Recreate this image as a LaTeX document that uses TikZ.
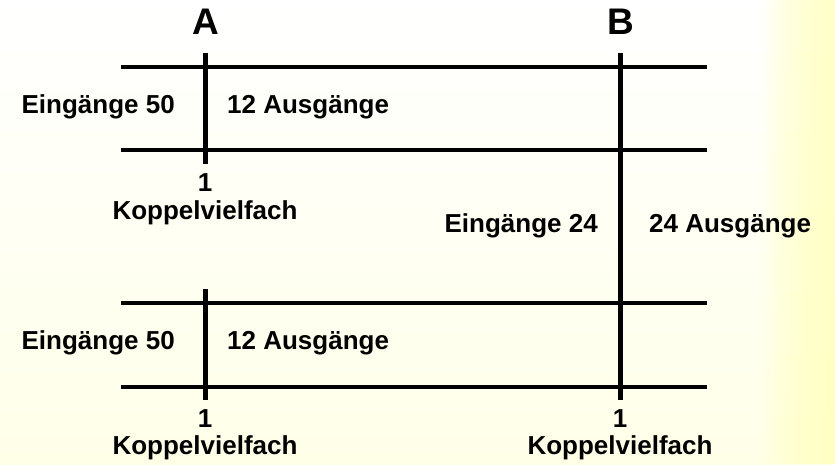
\documentclass[tikz,border=0pt]{standalone}
\usepackage{fontspec}
\setmainfont{Liberation Sans}[BoldFont={Liberation Sans Bold}]
\usepackage{tikz}
\definecolor{paleyellow}{RGB}{255, 255, 232}
\definecolor{stripyellow}{RGB}{255, 255, 190}

\begin{document}
\begin{tikzpicture}[
    x=1pt, y=-1pt,
    label/.style={font=\fontsize{26}{30}\selectfont\bfseries, inner sep=0pt},
    heading/.style={font=\fontsize{37}{40}\selectfont\bfseries, inner sep=0pt},
    bus/.style={line width=4pt},
    stage/.style={line width=5pt}
]
% background
\useasboundingbox (0, 0) rectangle (835, 464);
\shade[top color=white, bottom color=paleyellow] (0, 0) rectangle (835, 464);
\foreach \i in {1,...,25}
    \fill[stripyellow, fill opacity=0.06] (760+3*\i, 0) rectangle (835, 464);
% horizontal lines
\foreach \y/\n in {67/h1, 150/h2, 303/h3, 387/h4} {
    \coordinate (\n l) at (121, \y);
    \coordinate (\n r) at (707, \y);
    \draw[bus] (\n l) -- (\n r);
}
% switching stages
\coordinate (atop1) at (205, 53);  \coordinate (abot1) at (205, 164);
\coordinate (atop2) at (205, 289); \coordinate (abot2) at (205, 400);
\coordinate (btop) at (620, 53);   \coordinate (bbot) at (620, 400);
\draw[stage] (atop1) -- (abot1);
\draw[stage] (atop2) -- (abot2);
\draw[stage] (btop) -- (bbot);
% headings
\node[heading] (a) at (206, 22) {A};
\node[heading] (b) at (621, 22) {B};
% stage A, upper
\node[label, anchor=east] (in1) at (175, 107) {Eingänge 50};
\node[label, anchor=west] (out1) at (227, 107) {12 Ausgänge};
\node[label] (one1) at (205, 183) {1};
\node[label] (kv1) at (205, 213) {Koppelvielfach};
% stage B
\node[label, anchor=east] (in3) at (598, 226) {Eingänge 24};
\node[label, anchor=west] (out3) at (649, 226) {24 Ausgänge};
% stage A, lower
\node[label, anchor=east] (in2) at (175, 343) {Eingänge 50};
\node[label, anchor=west] (out2) at (227, 343) {12 Ausgänge};
\node[label] (one2) at (205, 419) {1};
\node[label] (kv2) at (205, 448) {Koppelvielfach};
\node[label] (one3) at (620, 419) {1};
\node[label] (kv3) at (620, 448) {Koppelvielfach};
\end{tikzpicture}
\end{document}
